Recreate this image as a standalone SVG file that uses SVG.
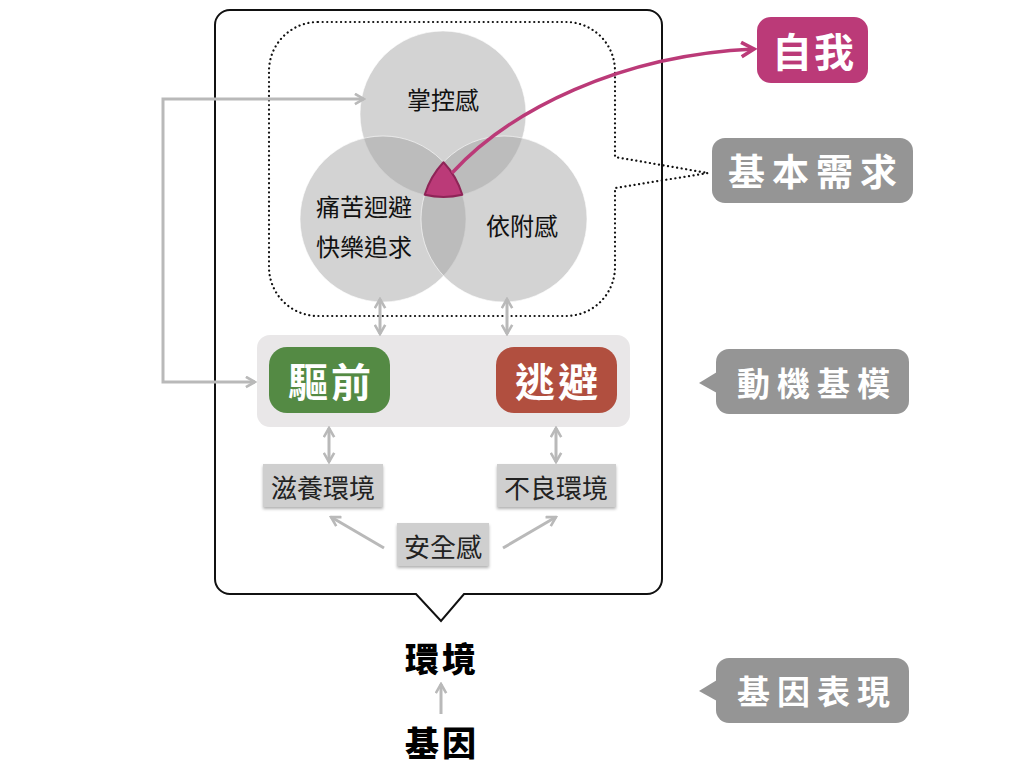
<svg xmlns="http://www.w3.org/2000/svg" width="1024" height="768" viewBox="0 0 1024 768">
<style>
text{font-family:"Noto Sans CJK TC","Noto Sans CJK SC",sans-serif;text-anchor:middle;dominant-baseline:central}
.ct{font-size:24px;fill:#111}
.lbl{font-size:33px;font-weight:700;fill:#fff;letter-spacing:7px}
.big{font-size:40px;font-weight:700;fill:#fff;letter-spacing:3px}
.env{font-size:26px;fill:#222}
.blk{font-size:34px;font-weight:900;fill:#000;letter-spacing:3px}
.gray{stroke:#b9b9b9;stroke-width:3;fill:none}
.circ{fill:#a3a3a3;fill-opacity:0.48;stroke:#fff;stroke-opacity:0.6;stroke-width:1}
</style>
<defs>
<marker id="ag" viewBox="0 0 10 10" refX="8.5" refY="5" markerWidth="13" markerHeight="13" markerUnits="userSpaceOnUse" orient="auto-start-reverse">
<path d="M1.5,1 L8.5,5 L1.5,9" fill="none" stroke="#b9b9b9" stroke-width="2"/>
</marker>
<marker id="am" viewBox="0 0 10 10" refX="8.5" refY="5" markerWidth="18" markerHeight="18" markerUnits="userSpaceOnUse" orient="auto">
<path d="M1.5,1 L8.5,5 L1.5,9" fill="none" stroke="#bb3a78" stroke-width="2"/>
</marker>
<filter id="sh" x="-20%" y="-20%" width="140%" height="160%">
<feDropShadow dx="0" dy="2" stdDeviation="1.5" flood-color="#000" flood-opacity="0.3"/>
</filter>
</defs>

<g id="frame">
<path d="M230,10 H647 A15,15 0 0 1 662,25 V579 A15,15 0 0 1 647,594 H464 L441,621 L416,594 H230 A15,15 0 0 1 215,579 V25 A15,15 0 0 1 230,10 Z" fill="#fff" stroke="#111" stroke-width="2"/>
</g>

<g id="needs-outline">
<path d="M318,22 H566 A49,49 0 0 1 615,71 V157 L708,173 L615,188 V267 A49,49 0 0 1 566,316 H318 A49,49 0 0 1 269,267 V71 A49,49 0 0 1 318,22 Z" fill="none" stroke="#111" stroke-width="2.2" stroke-dasharray="0.1 4.5" stroke-linecap="round"/>
</g>

<g id="mastery"><circle class="circ" cx="443" cy="114" r="83"/><text class="ct" x="443" y="98">掌控感</text></g>
<g id="pain-pleasure"><circle class="circ" cx="383" cy="219" r="83"/><text class="ct" x="364" y="205">痛苦迴避</text><text class="ct" x="364" y="245">快樂追求</text></g>
<g id="attachment"><circle class="circ" cx="504" cy="219" r="83"/><text class="ct" x="522" y="224">依附感</text></g>
<g id="core"><path d="M443.5,162.2 A83,83 0 0 1 462.3,194.7 A83,83 0 0 1 424.7,194.7 A83,83 0 0 1 443.5,162.2 Z" fill="#bb3a78" stroke="#8e2457" stroke-width="2" stroke-linejoin="round"/></g>

<g id="schema-bg"><rect x="257" y="335" width="373" height="92" rx="13" fill="#e9e7e8"/></g>
<g id="approach"><rect x="269" y="347" width="121" height="66" rx="18" fill="#548a44"/><text class="big" x="331" y="380">驅前</text></g>
<g id="avoid"><rect x="496" y="347" width="121" height="66" rx="18" fill="#b14f3f"/><text class="big" x="558" y="380">逃避</text></g>

<g id="nurturing"><rect x="263" y="464" width="120" height="43" fill="#cfcfcf" filter="url(#sh)"/><text class="env" x="323" y="486">滋養環境</text></g>
<g id="adverse"><rect x="497" y="464" width="119" height="43" fill="#cfcfcf" filter="url(#sh)"/><text class="env" x="556" y="486">不良環境</text></g>
<g id="security"><rect x="397" y="523" width="92" height="43" fill="#cfcfcf" filter="url(#sh)"/><text class="env" x="443" y="545">安全感</text></g>

<g id="environment"><text class="blk" x="442" y="657">環境</text></g>
<g id="gene"><text class="blk" x="442" y="741">基因</text></g>

<g id="self"><rect x="757" y="17" width="111" height="66" rx="14" fill="#bb3a78"/><text x="814" y="50" style="font-size:40px;font-weight:700;fill:#fff;letter-spacing:2px">自我</text></g>
<g id="label-needs"><rect x="712" y="138" width="201" height="65" rx="13" fill="#959595"/><text x="816" y="170" style="font-size:37px;font-weight:700;fill:#fff;letter-spacing:7px">基本需求</text></g>
<g id="label-schema"><path d="M699,383 L717,372 V393 Z" fill="#959595"/><rect x="716" y="349" width="193" height="65" rx="13" fill="#959595"/><text class="lbl" x="817" y="382">動機基模</text></g>
<g id="label-gene"><path d="M699,691 L717,680 V701 Z" fill="#959595"/><rect x="716" y="658" width="193" height="65" rx="13" fill="#959595"/><text class="lbl" x="817" y="690">基因表現</text></g>

<g id="connectors">
<path class="gray" d="M255,382 H163 V99 H364" marker-start="url(#ag)" marker-end="url(#ag)"/>
<line class="gray" x1="380" y1="299" x2="380" y2="334" marker-start="url(#ag)" marker-end="url(#ag)"/>
<line class="gray" x1="507" y1="299" x2="507" y2="334" marker-start="url(#ag)" marker-end="url(#ag)"/>
<line class="gray" x1="329" y1="428" x2="329" y2="462" marker-start="url(#ag)" marker-end="url(#ag)"/>
<line class="gray" x1="556" y1="428" x2="556" y2="462" marker-start="url(#ag)" marker-end="url(#ag)"/>
<line class="gray" x1="384" y1="548" x2="331" y2="517" marker-end="url(#ag)"/>
<line class="gray" x1="503" y1="548" x2="556" y2="517" marker-end="url(#ag)"/>
<line class="gray" x1="441" y1="714" x2="441" y2="684" marker-end="url(#ag)"/>
<path d="M452,173 C510,110 620,55 754,49" fill="none" stroke="#bb3a78" stroke-width="3.5" marker-end="url(#am)"/>
</g>
</svg>
